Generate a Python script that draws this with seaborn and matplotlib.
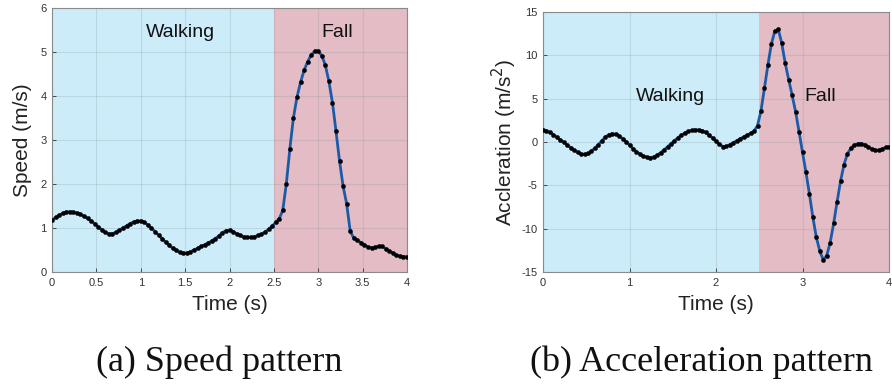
import numpy as np
import pandas as pd
import matplotlib
matplotlib.use("Agg")
import matplotlib.pyplot as plt
import seaborn as sns

# ---------------- data ----------------
time_s = [round(0.04 * i, 2) for i in range(101)]

speed = [
    1.18, 1.24, 1.29, 1.33, 1.36, 1.37, 1.36, 1.34, 1.31, 1.27,
    1.22, 1.16, 1.10, 1.03, 0.96, 0.90, 0.87, 0.87, 0.90, 0.95,
    1.00, 1.05, 1.10, 1.14, 1.16, 1.16, 1.13, 1.07, 1.00, 0.92,
    0.84, 0.76, 0.68, 0.61, 0.54, 0.49, 0.45, 0.43, 0.43, 0.46,
    0.50, 0.54, 0.58, 0.62, 0.66, 0.71, 0.76, 0.82, 0.89, 0.94,
    0.95, 0.92, 0.87, 0.83, 0.80, 0.79, 0.79, 0.80, 0.83, 0.86,
    0.91, 0.97, 1.04, 1.13, 1.21, 1.40, 2.00, 2.80, 3.50, 3.97,
    4.31, 4.58, 4.78, 4.93, 5.02, 5.02, 4.92, 4.70, 4.33, 3.85,
    3.20, 2.52, 1.95, 1.55, 0.93, 0.77, 0.72, 0.67, 0.62, 0.57,
    0.55, 0.56, 0.59, 0.58, 0.53, 0.48, 0.43, 0.38, 0.36, 0.35,
    0.35,
]

accel = [
    1.42, 1.30, 1.10, 0.85, 0.55, 0.25, -0.05, -0.35, -0.65, -0.95,
    -1.20, -1.37, -1.42, -1.32, -1.05, -0.70, -0.30, 0.15, 0.55, 0.85,
    0.96, 0.90, 0.70, 0.40, 0.05, -0.35, -0.75, -1.10, -1.40, -1.62,
    -1.76, -1.80, -1.72, -1.52, -1.22, -0.90, -0.55, -0.20, 0.15, 0.50,
    0.80, 1.05, 1.22, 1.33, 1.40, 1.40, 1.30, 1.10, 0.80, 0.45,
    0.10, -0.25, -0.52, -0.50, -0.30, -0.08, 0.15, 0.38, 0.60, 0.80,
    1.00, 1.25, 1.90, 3.60, 6.20, 8.90, 11.30, 12.80, 13.00, 11.40,
    9.10, 7.20, 5.40, 3.50, 1.20, -1.20, -3.50, -6.00, -8.70, -11.00,
    -12.60, -13.60, -13.10, -11.60, -9.40, -6.90, -4.50, -2.60, -1.35, -0.70,
    -0.35, -0.20, -0.18, -0.30, -0.55, -0.80, -0.95, -0.95, -0.80, -0.62,
    -0.55,
]

phase_labels = ["Walking", "Fall"]
phase_bounds = [0.0, 2.5, 4.0]

speed_xticks = [0, 0.5, 1, 1.5, 2, 2.5, 3, 3.5, 4]
speed_xticklabels = ["0", "0.5", "1", "1.5", "2", "2.5", "3", "3.5", "4"]
speed_yticks = [0, 1, 2, 3, 4, 5, 6]
accel_xticks = [0, 1, 2, 3, 4]
accel_yticks = [-15, -10, -5, 0, 5, 10, 15]

captions = ["(a) Speed pattern", "(b) Acceleration pattern"]

# ---------------- style ----------------
sns.set_style("ticks")
plt.rcParams["font.family"] = ["Liberation Sans", "DejaVu Sans"]
plt.rcParams["axes.unicode_minus"] = False

BLUE_BG = "#cdecf9"
PINK_BG = "#e3bcc5"
LINE = "#1c5aa6"

fig = plt.figure(figsize=(8.92, 3.89), dpi=100)
axL = fig.add_axes([52 / 892, 1 - 272 / 389, (407 - 52) / 892, (272 - 8) / 389])
axR = fig.add_axes([543 / 892, 1 - 272 / 389, (889 - 543) / 892, (272 - 12) / 389])

df = pd.DataFrame({"t": time_s, "speed": speed, "accel": accel})


def style_axis(ax, xticks, yticks, ylim, xticklabels=None):
    ax.axvspan(phase_bounds[0], phase_bounds[1], color=BLUE_BG, lw=0, zorder=0)
    ax.axvspan(phase_bounds[1], phase_bounds[2], color=PINK_BG, lw=0, zorder=0)
    ax.set_xlim(0, 4)
    ax.set_ylim(*ylim)
    ax.set_xticks(xticks)
    if xticklabels is not None:
        ax.set_xticklabels(xticklabels)
    ax.set_yticks(yticks)
    ax.grid(True, color="#7f8c99", alpha=0.22, lw=0.8)
    ax.tick_params(direction="in", length=3, width=0.6, labelsize=8,
                   colors="#333333", pad=4)
    for s in ax.spines.values():
        s.set_visible(True)
        s.set_color("#8a8a8a")
        s.set_linewidth(0.8)


style_axis(axL, speed_xticks, speed_yticks, (0, 6), speed_xticklabels)
style_axis(axR, accel_xticks, accel_yticks, (-15, 15))

line_kw = dict(color=LINE, lw=2.0, marker="o", markersize=3.0,
               markerfacecolor="black", markeredgecolor="black",
               markeredgewidth=0.3, zorder=3)
sns.lineplot(data=df, x="t", y="speed", ax=axL, **line_kw)
sns.lineplot(data=df, x="t", y="accel", ax=axR, **line_kw)

axL.set_xlabel("Time (s)", fontsize=15, labelpad=5, color="#222222")
axL.set_ylabel("Speed (m/s)", fontsize=15, labelpad=6, color="#222222")
axR.set_xlabel("Time (s)", fontsize=15, labelpad=5, color="#222222")
axR.set_ylabel("Accleration (m/s$^2$)", fontsize=15, labelpad=2, color="#222222")

txt_kw = dict(fontsize=14, ha="center", va="center", color="#111111")
for ax, pos in [(axL, [(1.45, 5.45), (3.21, 5.45)]), (axR, [(1.47, 5.2), (3.21, 5.3)])]:
    for lab, (x, y) in zip(phase_labels, pos):
        ax.text(x, y, lab, **txt_kw)

fig.text(219 / 892, 1 - 362 / 389, captions[0], family="Liberation Serif",
         fontsize=26, ha="center", va="center", color="#111111")
fig.text(701 / 892, 1 - 362 / 389, captions[1], family="Liberation Serif",
         fontsize=26, ha="center", va="center", color="#111111")

fig.savefig("out.png", dpi=100)
